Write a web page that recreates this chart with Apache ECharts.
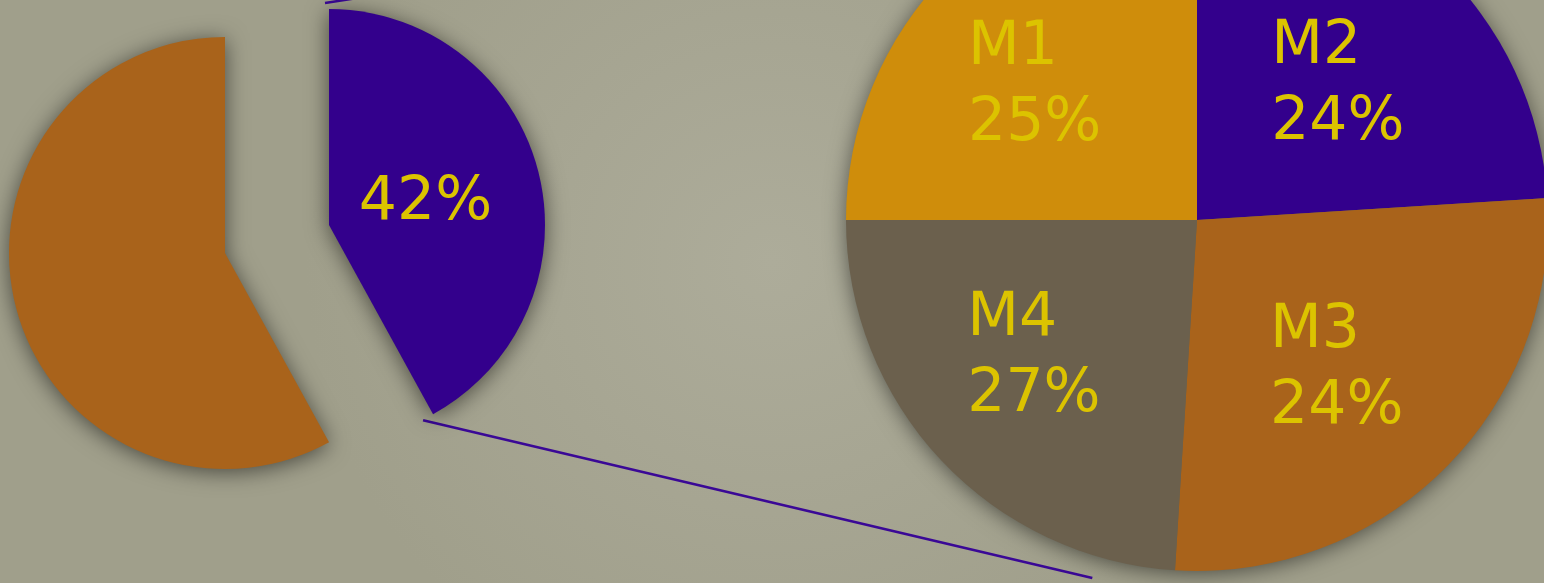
<!DOCTYPE html>
<html lang="en">
<head>
    <meta charset="UTF-8">
    <title>Pie of pie</title>
    <script src="https://cdn.jsdelivr.net/npm/echarts@6.0.0/dist/echarts.min.js"></script>
    <style>
        * { margin: 0; padding: 0; box-sizing: border-box; }
        html, body { width: 100%; height: 100%; overflow: hidden; background: #a8a794; }
        #chart { width: 1544px; height: 583px; }
    </style>
</head>
<body>
    <div id="chart"></div>
    <script>
        // left pie: the broken-out group first (clockwise from 12 o'clock), then the rest
        const mainNames = ['M', 'Other'];
        const mainValues = [42, 58];

        // right pie: slice sizes as drawn, and the percentages printed on them
        const subNames = ['M1', 'M2', 'M3', 'M4'];
        const subValues = [25, 24, 27, 24];
        const subPrinted = [25, 24, 24, 27];

        const colors = {
            purple: '#33008c',
            orange: '#a9631b',
            gold: '#cf8d0b',
            grey: '#6b604d',
            text: '#dcc300',
            line: '#3a0896'
        };
        const subColors = [colors.gold, colors.purple, colors.orange, colors.grey];

        // layout (px)
        const R = 216;
        const restCenter = [225, 253];
        const outCenter = [329, 225];
        const bigCenter = [1197, 220];
        const bigR = 351;
        // small nudges of the big pie labels away from the plain mid-angle spot
        const subLabelNudge = [[-2, 18], [2, 22], [-4, -3], [2, -10]];

        const shadow = {
            shadowBlur: 22,
            shadowColor: 'rgba(0, 0, 0, 0.55)',
            shadowOffsetY: 3
        };
        const hidden = { color: 'rgba(0,0,0,0)', shadowBlur: 0, shadowColor: 'rgba(0,0,0,0)' };
        const font = '"DejaVu Sans", Verdana, sans-serif';

        // connector lines, from the broken-out slice to the big pie
        const total = mainValues.reduce((a, b) => a + b, 0);
        const cutAngle = mainValues[0] / total * Math.PI * 2;
        const tip = [outCenter[0] + R * Math.sin(cutAngle), outCenter[1] - R * Math.cos(cutAngle)];
        const lowAngle = 196.3 / 180 * Math.PI;
        const lowEnd = [bigCenter[0] + (bigR + 22) * Math.sin(lowAngle), bigCenter[1] - (bigR + 22) * Math.cos(lowAngle)];

        const chart = echarts.init(document.getElementById('chart'), null, { renderer: 'canvas' });

        chart.setOption({
            animation: false,
            backgroundColor: {
                type: 'radial', x: 0.5, y: 0.45, r: 0.8,
                colorStops: [
                    { offset: 0, color: '#adac9a' },
                    { offset: 1, color: '#a09f8b' }
                ]
            },
            graphic: [
                {
                    type: 'line', z: 1, silent: true,
                    shape: { x1: outCenter[0] - 4, y1: outCenter[1] - R - 6, x2: bigCenter[0], y2: bigCenter[1] - bigR },
                    style: { stroke: colors.line, lineWidth: 2.5 }
                },
                {
                    type: 'line', z: 1, silent: true,
                    shape: { x1: tip[0] - 10, y1: tip[1] + 6, x2: lowEnd[0], y2: lowEnd[1] },
                    style: { stroke: colors.line, lineWidth: 2.5 }
                }
            ],
            series: [
                {
                    // the remaining share, left in place
                    type: 'pie', silent: true, z: 2,
                    center: restCenter, radius: R, startAngle: 90,
                    label: { show: false }, labelLine: { show: false },
                    data: mainValues.map((v, i) => ({
                        name: mainNames[i], value: v,
                        itemStyle: i === 1 ? Object.assign({ color: colors.orange }, shadow) : hidden
                    }))
                },
                {
                    // the broken-out share
                    type: 'pie', silent: true, z: 2,
                    center: outCenter, radius: R, startAngle: 90,
                    labelLine: { show: false },
                    data: mainValues.map((v, i) => ({
                        name: mainNames[i], value: v,
                        itemStyle: i === 0 ? Object.assign({ color: colors.purple }, shadow) : hidden,
                        label: i === 0 ? {
                            show: true, position: 'inside', formatter: '{d}%', offset: [-11, 6],
                            color: colors.text, fontSize: 60, fontFamily: font
                        } : { show: false }
                    }))
                },
                {
                    // one-piece disc under the big pie, only there for its drop shadow
                    type: 'pie', silent: true, z: 2,
                    center: bigCenter, radius: bigR - 1,
                    label: { show: false }, labelLine: { show: false },
                    itemStyle: Object.assign({ color: colors.grey }, shadow),
                    data: [{ name: 'all', value: subValues.reduce((a, b) => a + b, 0) }]
                },
                {
                    type: 'pie', silent: true, z: 3,
                    center: bigCenter, radius: bigR, startAngle: 180,
                    label: { show: false }, labelLine: { show: false },
                    data: subValues.map((v, i) => ({
                        name: subNames[i], value: v,
                        itemStyle: { color: subColors[i] }
                    }))
                },
                {
                    // transparent twin that carries the labels of the big pie
                    type: 'pie', silent: true, z: 4,
                    center: bigCenter, radius: 424, startAngle: 180,
                    labelLine: { show: false },
                    itemStyle: hidden,
                    label: {
                        show: true, position: 'inside',
                        formatter: p => '{t|' + subNames[p.dataIndex] + '}\n{t|' + subPrinted[p.dataIndex] + '%}',
                        rich: {
                            t: {
                                width: 150, align: 'left', fontSize: 60, lineHeight: 76,
                                color: colors.text, fontFamily: font
                            }
                        }
                    },
                    data: subValues.map((v, i) => ({
                        name: subNames[i], value: v,
                        label: { offset: subLabelNudge[i] }
                    }))
                }
            ]
        });
    </script>
</body>
</html>
